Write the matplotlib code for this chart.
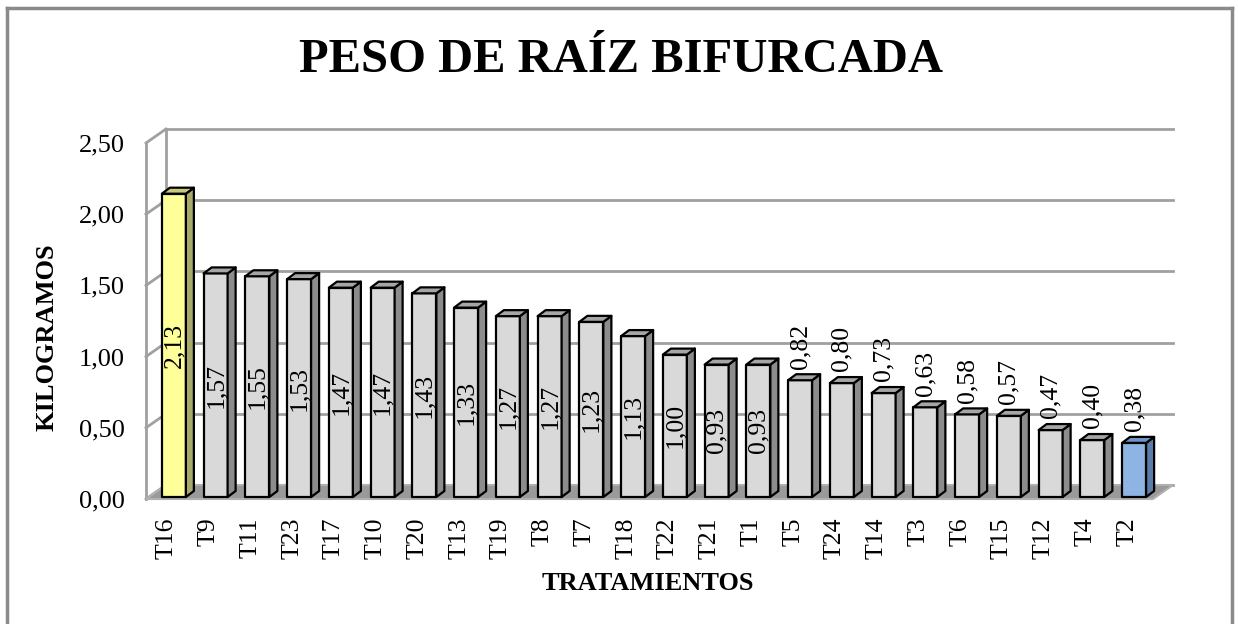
import matplotlib
matplotlib.use("Agg")
from matplotlib import pyplot as plt
from matplotlib.patches import Polygon
from matplotlib.lines import Line2D
import numpy as np

plt.rcParams["font.family"] = ["Liberation Serif", "DejaVu Serif"]

tratamientos = ["T16", "T9", "T11", "T23", "T17", "T10", "T20", "T13", "T19", "T8", "T7", "T18",
                "T22", "T21", "T1", "T5", "T24", "T14", "T3", "T6", "T15", "T12", "T4", "T2"]
peso = [2.13, 1.57, 1.55, 1.53, 1.47, 1.47, 1.43, 1.33, 1.27, 1.27, 1.23, 1.13,
        1.00, 0.93, 0.93, 0.82, 0.80, 0.73, 0.63, 0.58, 0.57, 0.47, 0.40, 0.38]
yticks = [0.0, 0.5, 1.0, 1.5, 2.0, 2.5]

# colores (frente, lado, techo)
gris = ("#d9d9d9", "#8c8c8c", "#a6a6a6")
amarillo = ("#ffff99", "#a9a96b", "#c9c97c")
azul = ("#8db4e2", "#5a7eab", "#7094c4")

W, H = 1238, 624
fig = plt.figure(figsize=(W / 100, H / 100), dpi=100)

# geometria en pixeles del plano frontal
px0, px1 = 146, 1148
py0, py1 = 499, 143
n = len(peso)
ux = (px1 - px0) / n          # px por categoria
uy = (py0 - py1) / 2.5        # px por kg
xl = (-0.2, n + 0.8)
yl = (-0.1, 2.7)
left = px0 + xl[0] * ux
bottom = py0 - yl[0] * uy
ax = fig.add_axes([left / W, (H - bottom) / H, (xl[1] - xl[0]) * ux / W, (yl[1] - yl[0]) * uy / H])
ax.set_xlim(*xl)
ax.set_ylim(*yl)
for s in ax.spines.values():
    s.set_visible(False)

# profundidad del grafico 3D
dx = 20 / ux
dy = 14 / uy
# barras
bw = 24 / ux
bdx = 8 / ux
bdy = 6 / uy
ox = 7 / ux
oy = 2 / uy

grid_c = "#a0a0a0"
for v in yticks:
    ax.add_line(Line2D([dx, n + dx + 0.12], [v + dy, v + dy], color=grid_c, lw=2, zorder=1))
    ax.add_line(Line2D([0, dx], [v, v + dy], color=grid_c, lw=2, zorder=1))
ax.add_line(Line2D([0, 0], [0, 2.5], color=grid_c, lw=2, zorder=1))
ax.add_line(Line2D([dx, dx], [dy, 2.5 + dy], color=grid_c, lw=2, zorder=1))

# piso
ax.add_patch(Polygon([(0, 0), (n + 0.12, 0), (n + 0.12 + dx, dy), (dx, dy)],
                     closed=True, facecolor="#9a9a9a", edgecolor="#b0b0b0", lw=1.5, zorder=2))

for i, v in enumerate(peso):
    if i == 0:
        c = amarillo
    elif i == n - 1:
        c = azul
    else:
        c = gris
    x0 = i + 0.5 - bw / 2 + ox
    x1 = x0 + bw
    y0 = oy
    y1 = v + oy
    front = Polygon([(x0, y0), (x1, y0), (x1, y1), (x0, y1)], closed=True,
                    facecolor=c[0], edgecolor="black", lw=1.6, zorder=3, joinstyle="round")
    side = Polygon([(x1, y0), (x1 + bdx, y0 + bdy), (x1 + bdx, y1 + bdy), (x1, y1)], closed=True,
                   facecolor=c[1], edgecolor="black", lw=1.6, zorder=3, joinstyle="round")
    top = Polygon([(x0, y1), (x1, y1), (x1 + bdx, y1 + bdy), (x0 + bdx, y1 + bdy)], closed=True,
                  facecolor=c[2], edgecolor="black", lw=1.6, zorder=3, joinstyle="round")
    for p in (front, side, top):
        ax.add_patch(p)
    txt = f"{v:.2f}".replace(".", ",")
    xc = i + 0.5 + ox
    if v >= 0.9:
        ax.text(xc, v / 2 + oy, txt, rotation=90, ha="center", va="center", fontsize=18.5, zorder=4)
    else:
        ax.text(xc, v + oy + bdy + 0.04, txt, rotation=90, ha="center", va="bottom", fontsize=18.5, zorder=4)

ax.set_yticks(yticks)
ax.set_yticklabels([f"{v:.2f}".replace(".", ",") for v in yticks], fontsize=19)
ax.set_xticks(np.arange(n) + 0.5)
ax.set_xticklabels(tratamientos, rotation=90, fontsize=18.5, va="top", ha="center")
ax.tick_params(axis="y", length=0, pad=9)
ax.tick_params(axis="x", length=0, pad=3)

fig.text(621 / W, 1 - 60 / H, "PESO DE RAÍZ BIFURCADA", ha="center", va="center",
         fontsize=35, fontweight="bold")
fig.text(47 / W, 1 - 337 / H, "KILOGRAMOS", rotation=90, ha="center", va="center",
         fontsize=19, fontweight="bold")
fig.text(648 / W, 1 - 583 / H, "TRATAMIENTOS", ha="center", va="center",
         fontsize=19, fontweight="bold")

# marco exterior
bx0, bx1, by0 = 7 / W, 1232 / W, 1 - 7.5 / H
for xs, ys in [([bx0, bx0], [0, by0]), ([bx0, bx1], [by0, by0]), ([bx1, bx1], [by0, 0])]:
    fig.add_artist(Line2D(xs, ys, color="#8a8a8a", lw=2.5, transform=fig.transFigure))

fig.savefig("out.png", dpi=100)
